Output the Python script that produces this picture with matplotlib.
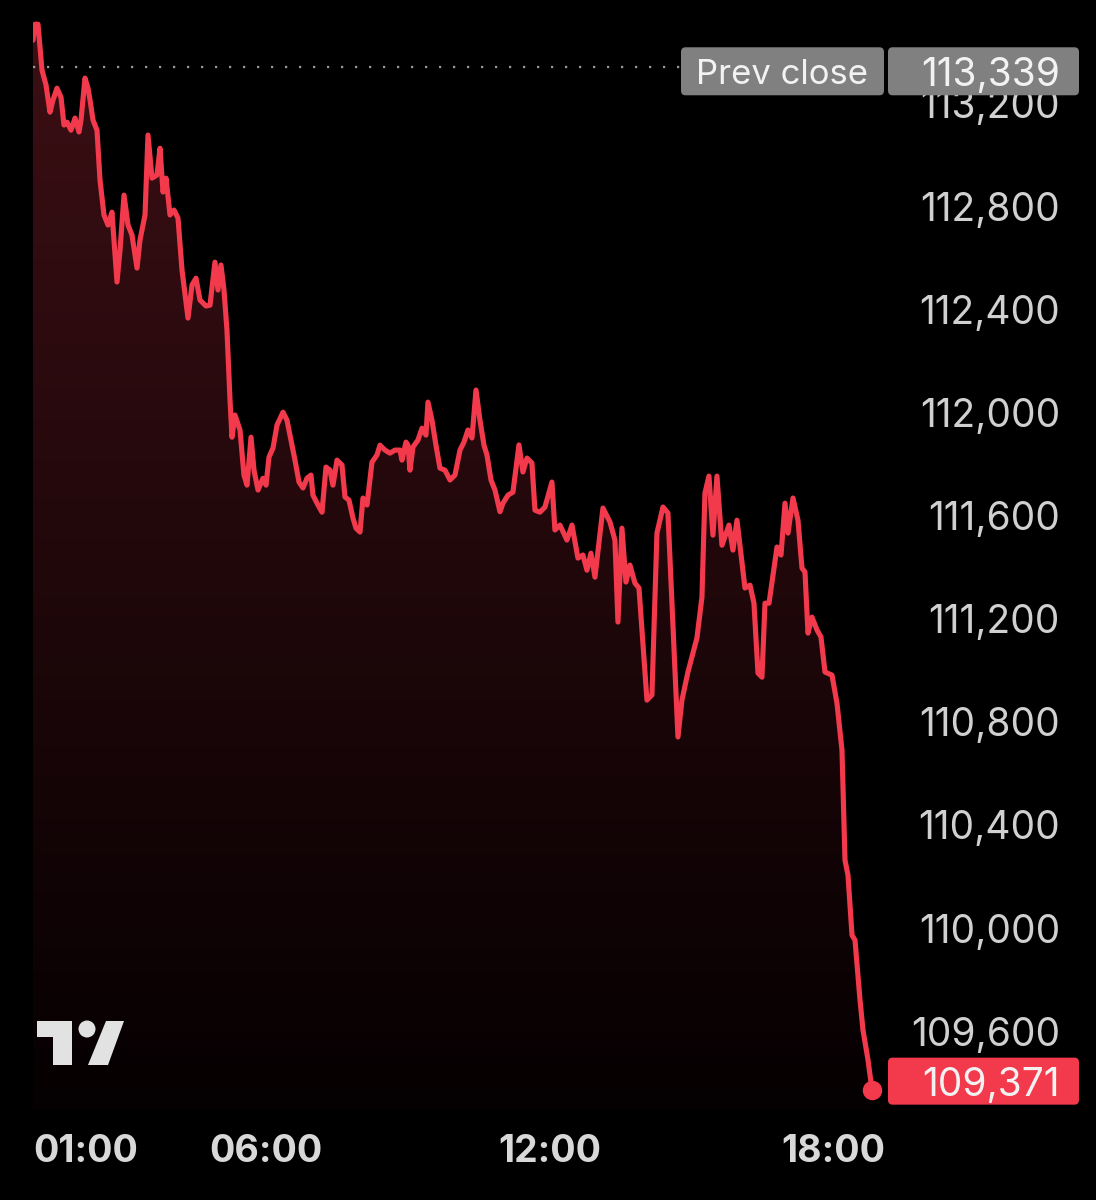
import numpy as np
import matplotlib
matplotlib.use("Agg")
import matplotlib.pyplot as plt
from matplotlib.patches import FancyBboxPatch, Polygon, Rectangle, Circle

# intraday price, time in hours
horas = [1.078, 1.12, 1.184, 1.268, 1.353, 1.437, 1.501, 1.585, 1.67, 1.733,
         1.797, 1.881, 1.966, 2.05, 2.092, 2.177, 2.24, 2.283, 2.346, 2.43,
         2.494, 2.578, 2.663, 2.747, 2.853, 2.917, 3.001, 3.086, 3.17, 3.276,
         3.339, 3.445, 3.508, 3.593, 3.698, 3.762, 3.825, 3.889, 3.973, 4.058,
         4.142, 4.227, 4.353, 4.438, 4.522, 4.607, 4.733, 4.818, 4.923, 4.987,
         5.05, 5.114, 5.177, 5.241, 5.283, 5.346, 5.452, 5.536, 5.6, 5.685,
         5.748, 5.833, 5.938, 6.002, 6.065, 6.15, 6.234, 6.361, 6.445, 6.53,
         6.614, 6.699, 6.783, 6.868, 6.952, 6.994, 7.1, 7.185, 7.269, 7.354,
         7.417, 7.502, 7.607, 7.671, 7.755, 7.84, 7.903, 7.988, 8.051, 8.136,
         8.241, 8.347, 8.41, 8.516, 8.622, 8.727, 8.833, 8.875, 8.96, 9.002,
         9.044, 9.108, 9.213, 9.298, 9.382, 9.424, 9.509, 9.593, 9.678, 9.784,
         9.89, 9.995, 10.101, 10.185, 10.27, 10.354, 10.439, 10.523, 10.608, 10.671,
         10.756, 10.84, 10.946, 11.009, 11.115, 11.22, 11.347, 11.431, 11.516, 11.621,
         11.685, 11.79, 11.896, 12.044, 12.107, 12.213, 12.361, 12.467, 12.594, 12.699,
         12.784, 12.868, 12.953, 13.122, 13.27, 13.375, 13.439, 13.523, 13.608, 13.692,
         13.798, 13.883, 14.052, 14.157, 14.263, 14.39, 14.495, 14.707, 14.791, 14.918,
         15.108, 15.214, 15.277, 15.362, 15.446, 15.531, 15.637, 15.785, 15.869, 15.954,
         16.123, 16.229, 16.313, 16.398, 16.482, 16.546, 16.631, 16.8, 16.884, 16.969,
         17.032, 17.138, 17.243, 17.328, 17.391, 17.455, 17.539, 17.645, 17.729, 17.814,
         17.962, 18.067, 18.173, 18.237, 18.3, 18.385, 18.448, 18.554, 18.617, 18.723,
         18.808]
precios = [113444, 113506, 113506, 113328, 113270, 113165, 113212, 113258, 113223, 113115,
           113126, 113095, 113142, 113088, 113134, 113297, 113258, 113212, 113134, 113095,
           112901, 112766, 112727, 112777, 112506, 112630, 112843, 112727, 112688, 112560,
           112669, 112766, 113076, 112909, 112921, 113025, 112855, 112909, 112766, 112785,
           112754, 112552, 112366, 112494, 112521, 112436, 112413, 112416, 112583, 112475,
           112572, 112475, 112319, 112048, 111904, 111990, 111932, 111757, 111718, 111904,
           111776, 111699, 111745, 111718, 111827, 111862, 111951, 112001, 111970, 111893,
           111815, 111730, 111707, 111745, 111757, 111679, 111641, 111613, 111788, 111776,
           111718, 111815, 111796, 111672, 111660, 111590, 111551, 111536, 111668, 111641,
           111807, 111835, 111873, 111854, 111842, 111854, 111854, 111815, 111885, 111873,
           111776, 111866, 111893, 111939, 111912, 112040, 111970, 111873, 111784, 111776,
           111738, 111757, 111854, 111885, 111932, 111901, 112087, 111970, 111873, 111835,
           111738, 111699, 111615, 111648, 111679, 111691, 111874, 111769, 111823, 111804,
           111621, 111613, 111633, 111730, 111544, 111563, 111505, 111563, 111435, 111447,
           111388, 111454, 111361, 111629, 111575, 111505, 111187, 111551, 111342, 111408,
           111338, 111319, 110884, 110904, 111532, 111633, 111610, 110741, 110884, 110993,
           111125, 111284, 111687, 111753, 111524, 111753, 111485, 111563, 111466, 111582,
           111319, 111330, 111260, 110989, 110973, 111260, 111260, 111478, 111447, 111648,
           111532, 111668, 111582, 111396, 111381, 111144, 111206, 111156, 111129, 110993,
           110981, 110872, 110690, 110263, 110205, 109972, 109953, 109720, 109604, 109488,
           109371]

cierre_anterior = 113339
ticks_y = [109600, 110000, 110400, 110800, 111200, 111600, 112000, 112400, 112800, 113200]
ticks_x = [1.078, 6, 12, 18]
etiquetas_x = ['01:00', '06:00', '12:00', '18:00']

ROJO = '#f23a4c'
W, H = 1096, 1200

fig = plt.figure(figsize=(W / 100, H / 100), dpi=100, facecolor='black')
# axes: px 33..1060 horizontally, px 0..1110 vertically
ax = fig.add_axes([33 / W, 1 - 1110 / H, (1060 - 33) / W, 1110 / H])
ax.set_facecolor('black')
ax.set_xlim(1.078, 22.78)
ax.set_ylim(109294, 113600)
for s in ax.spines.values():
    s.set_visible(False)

# gradient fill under the line
verts = [(horas[0], 109294)] + list(zip(horas, precios)) + [(horas[-1], 109294)]
poly = Polygon(verts, closed=True, facecolor='none', edgecolor='none')
ax.add_patch(poly)
grad = np.linspace(1, 0, 256).reshape(-1, 1)
top = np.array([0.24, 0.06, 0.08])
bot = np.array([0.02, 0.0, 0.005])
img = bot + (top - bot) * grad[..., None]
im = ax.imshow(img, extent=[1.078, 22.78, 109294, 113600], aspect='auto', origin='upper', zorder=1)
im.set_clip_path(poly)

ax.plot(horas, precios, color=ROJO, lw=3.7, solid_joinstyle='round', solid_capstyle='round', zorder=3)
ax.plot(horas[-1], precios[-1], 'o', color=ROJO, ms=13, zorder=4)

# prev close dotted line
ax.plot([horas[0], 14.75], [cierre_anterior, cierre_anterior], color='#9a9a9a', lw=1.6,
        linestyle=(0, (1, 5.3)), zorder=2)

ax.yaxis.tick_right()
ax.set_yticks(ticks_y)
ax.set_yticklabels([f'{v:,}' for v in ticks_y])
ax.tick_params(axis='y', length=0, pad=0, labelsize=28, labelcolor='#d0d0d0')
for lbl in ax.get_yticklabels():
    lbl.set_ha('right')
    lbl.set_family('Inter')

ax.set_xticks(ticks_x)
ax.set_xticklabels(etiquetas_x)
ax.tick_params(axis='x', length=0, pad=17, labelsize=27, labelcolor='#d8d8d8')
for i, lbl in enumerate(ax.get_xticklabels()):
    lbl.set_family('Inter')
    lbl.set_weight('bold')
    if i == 0:
        lbl.set_ha('left')


def py(valor):
    # figure pixel y (from top) of a price value
    return H - ax.transData.transform((0, valor))[1]


def caja(x0, x1, yc, h, color, texto, tx, ha, size):
    fig.patches.append(FancyBboxPatch((x0 / W, 1 - (yc + h / 2) / H), (x1 - x0) / W, h / H,
                                      boxstyle='round,pad=0,rounding_size=0.004',
                                      transform=fig.transFigure, facecolor=color,
                                      edgecolor='none', zorder=5))
    fig.text(tx / W, 1 - yc / H, texto, ha=ha, va='center_baseline', color='#f2f2f2',
             fontsize=size, family='Inter', zorder=6)


yc_prev = py(cierre_anterior)
caja(681, 884, yc_prev + 4, 48, '#808080', 'Prev close', 696, 'left', 25)
caja(888, 1079, yc_prev + 4, 48, '#808080', f'{cierre_anterior:,}', 1060, 'right', 28)
caja(888, 1079, py(precios[-1]) - 9, 47, ROJO, f'{precios[-1]:,}', 1060, 'right', 28)

# TradingView logo
gris = '#e2e2e2'
def fx(px):
    return px / W
def fyy(px):
    return 1 - px / H
fig.patches.append(Rectangle((fx(37), fyy(1037)), fx(72) - fx(37), fyy(1021) - fyy(1037),
                             transform=fig.transFigure, facecolor=gris, edgecolor='none'))
fig.patches.append(Rectangle((fx(53), fyy(1065)), fx(72) - fx(53), fyy(1021) - fyy(1065),
                             transform=fig.transFigure, facecolor=gris, edgecolor='none'))
fig.patches.append(Circle((87, H - 1029), 8.5, transform=None, facecolor=gris, edgecolor='none'))
fig.patches.append(Polygon([(fx(106), fyy(1021)), (fx(124), fyy(1021)), (fx(108), fyy(1065)),
                            (fx(88), fyy(1065))], closed=True, transform=fig.transFigure,
                           facecolor=gris, edgecolor='none'))

fig.savefig('out.png', dpi=100, facecolor='black')
